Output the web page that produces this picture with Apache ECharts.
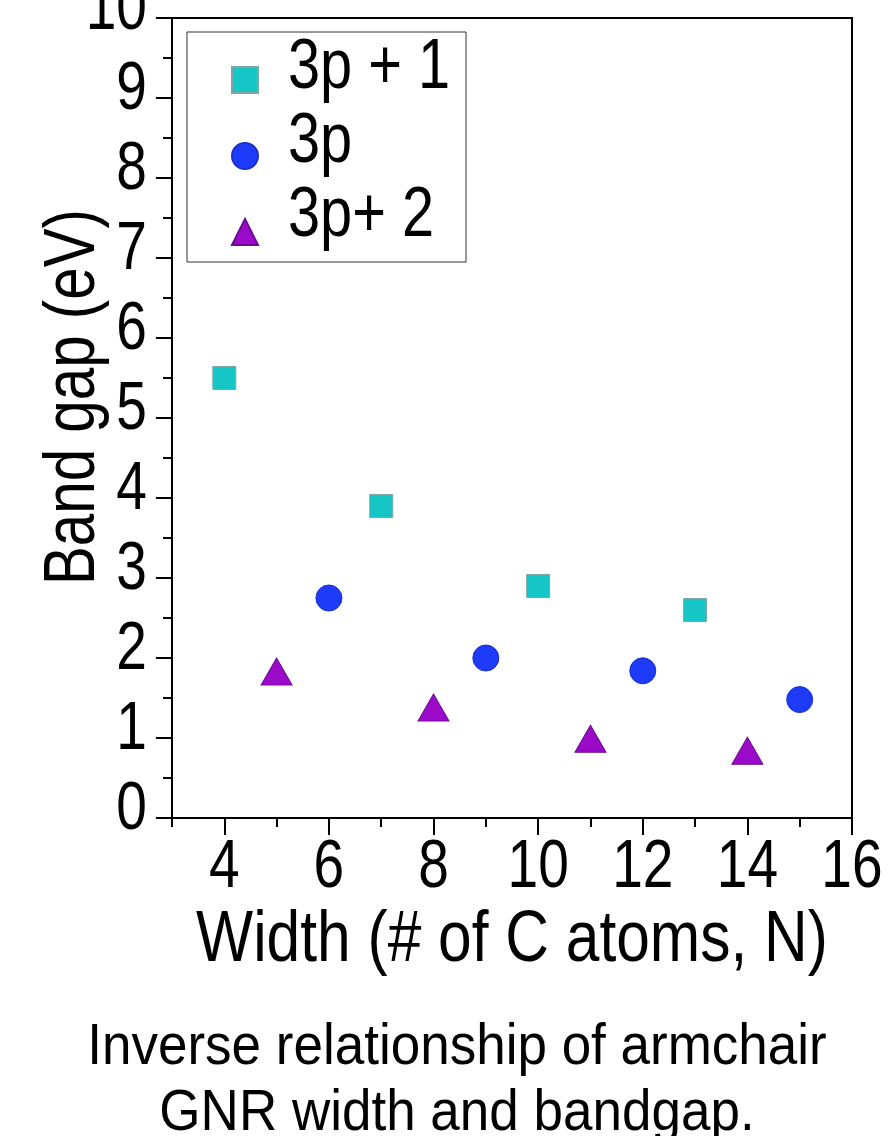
<!DOCTYPE html>
<html>
<head>
<meta charset="utf-8">
<script src="https://cdn.jsdelivr.net/npm/echarts@6/dist/echarts.min.js"></script>
<style>
  html, body { margin: 0; padding: 0; background: #fff; }
  #chart { width: 889px; height: 1136px; }
</style>
</head>
<body>
<div id="chart"></div>
<script>
// Armchair graphene nanoribbon band gaps, grouped by width family N = 3p+1, 3p, 3p+2
const seriesNames = ['3p + 1', '3p', '3p+ 2'];
const widths3p1 = [4, 7, 10, 13];
const gaps3p1 = [5.5, 3.9, 2.9, 2.6];
const widths3p = [6, 9, 12, 15];
const gaps3p = [2.75, 2.0, 1.84, 1.48];
const widths3p2 = [5, 8, 11, 14];
const gaps3p2 = [1.83, 1.38, 0.99, 0.84];

const xMajorTicks = [4, 6, 8, 10, 12, 14, 16];
const xMinorTicks = [3, 5, 7, 9, 11, 13, 15];
const yTicks = [0, 1, 2, 3, 4, 5, 6, 7, 8, 9, 10];

const xTitle = 'Width (# of C atoms, N)';
const yTitle = 'Band gap (eV)';
const captionLines = ['Inverse relationship of armchair', 'GNR width and bandgap.'];

// Condensed sans look: regular sans squeezed horizontally
const SANS = "'Liberation Sans', Arial, sans-serif";
const NARROW = 0.81;

function pairs(xs, ys) { return xs.map((x, i) => [x, ys[i]]); }

const chart = echarts.init(document.getElementById('chart'), null, { renderer: 'canvas' });

const option = {
  backgroundColor: '#ffffff',
  animation: false,
  grid: {
    left: 172, right: 37, top: 18, bottom: 318,
    outerBoundsMode: 'none', containLabel: false,
    show: true, borderColor: '#000', borderWidth: 2, backgroundColor: 'transparent'
  },
  legend: {
    orient: 'vertical',
    left: 187, top: 32,
    data: seriesNames,
    itemWidth: 26, itemHeight: 26,
    itemGap: 48,
    padding: [34, 203, 16, 44],
    borderColor: '#333', borderWidth: 1,
    formatter: () => '',
    textStyle: { fontSize: 10, lineHeight: 10 }
  },
  xAxis: [
    {
      type: 'value', position: 'bottom', min: 3, max: 16,
      axisLine: { show: true, onZero: false, lineStyle: { color: '#000', width: 2 } },
      axisTick: { show: true, inside: false, length: 17, customValues: xMajorTicks, lineStyle: { color: '#000', width: 2 } },
      axisLabel: { show: false },
      splitLine: { show: false }
    },
    {
      type: 'value', position: 'bottom', min: 3, max: 16, gridIndex: 0,
      axisLine: { show: false },
      axisTick: { show: true, inside: false, length: 9, customValues: xMinorTicks, lineStyle: { color: '#000', width: 2 } },
      axisLabel: { show: false },
      splitLine: { show: false }
    }
  ],
  yAxis: {
    type: 'value', min: 0, max: 10, interval: 1,
    axisLine: { show: true, onZero: false, lineStyle: { color: '#000', width: 2 } },
    axisTick: { show: true, inside: false, length: 16, lineStyle: { color: '#000', width: 2 } },
    minorTick: { show: true, splitNumber: 2, length: 9, lineStyle: { color: '#000', width: 2 } },
    axisLabel: { show: false },
    splitLine: { show: false }
  },
  series: [
    {
      name: seriesNames[0], type: 'scatter', xAxisIndex: 0,
      symbol: 'rect', symbolSize: 23,
      itemStyle: { color: '#16c6c6', borderColor: '#7fa6a6', borderWidth: 1, opacity: 1 },
      data: pairs(widths3p1, gaps3p1)
    },
    {
      name: seriesNames[1], type: 'scatter', xAxisIndex: 0,
      symbol: 'circle', symbolSize: 26,
      itemStyle: { color: '#1e3bfa', borderColor: '#1a30c8', borderWidth: 1, opacity: 1 },
      data: pairs(widths3p, gaps3p)
    },
    {
      name: seriesNames[2], type: 'scatter', xAxisIndex: 0,
      symbol: 'triangle', symbolSize: [31, 27],
      itemStyle: { color: '#9a0ac8', borderColor: '#6e0a94', borderWidth: 1, opacity: 1 },
      data: pairs(widths3p2, gaps3p2)
    }
  ]
};

chart.setOption(option);

// Text layer: tick labels, axis titles, legend names and caption, placed from the axis scales
const gx = (v) => chart.convertToPixel({ xAxisIndex: 0 }, v);
const gy = (v) => chart.convertToPixel({ yAxisIndex: 0 }, v);
const axisLeft = gx(3);
const axisBottom = gy(0);
const plotMidY = (gy(0) + gy(10)) / 2;
const plotMidX = (gx(3) + gx(16)) / 2;

function label(x, y, text, size, align, extra) {
  return Object.assign({
    type: 'text', x: x, y: y, scaleX: NARROW, silent: true,
    style: {
      text: text, font: size + 'px ' + SANS, fill: '#000',
      align: align, verticalAlign: 'middle'
    }
  }, extra || {});
}

const texts = [];
yTicks.forEach((v) => texts.push(label(axisLeft - 25, gy(v) - 7.5, String(v), 68, 'right')));
xMajorTicks.forEach((v) => texts.push(label(gx(v), axisBottom + 50, String(v), 68, 'center')));
texts.push(label(plotMidX, axisBottom + 123, xTitle, 72, 'center', { scaleX: 0.84 }));
texts.push(label(74, plotMidY - 21, yTitle, 72, 'center', { rotation: Math.PI / 2 }));

const legendTextX = 288;
const legendRowY = [69, 143, 217];
seriesNames.forEach((n, i) => texts.push(label(legendTextX, legendRowY[i], n, 70, 'left', { scaleX: 0.825 })));

texts.push({
  type: 'text', x: 457, y: 1081, scaleX: 0.93, silent: true,
  style: {
    text: captionLines.join('\n'),
    font: '57px ' + SANS, fill: '#000',
    align: 'center', verticalAlign: 'middle', lineHeight: 66
  }
});

chart.setOption({ graphic: texts });
</script>
</body>
</html>
